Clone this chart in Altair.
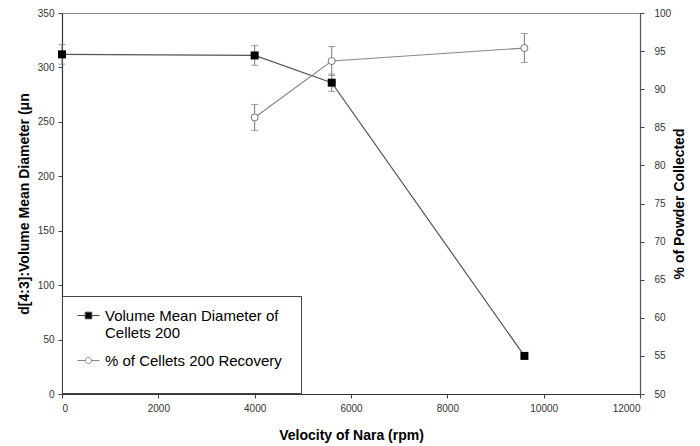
import altair as alt
import pandas as pd

# ---- data ----
velocity = [0, 4000, 5600, 9600]
diameter = [312, 311, 286, 35]
diameter_err = [9, 9, 8, 0]

rec_velocity = [4000, 5600, 9600]
recovery = [86.3, 93.7, 95.4]
recovery_err = [1.7, 1.9, 1.9]

series = ["Volume Mean Diameter of Cellets 200", "% of Cellets 200 Recovery"]
x_ticks = [0, 2000, 4000, 6000, 8000, 10000, 12000]
left_ticks = [0, 50, 100, 150, 200, 250, 300, 350]
right_ticks = [50, 55, 60, 65, 70, 75, 80, 85, 90, 95, 100]

dv = pd.DataFrame({"vel": velocity, "diam": diameter,
                   "lo": [d - e for d, e in zip(diameter, diameter_err)],
                   "hi": [d + e for d, e in zip(diameter, diameter_err)],
                   "err": diameter_err})
dv_err = dv[dv["err"] > 0]
dr = pd.DataFrame({"vel": rec_velocity, "rec": recovery,
                   "lo": [d - e for d, e in zip(recovery, recovery_err)],
                   "hi": [d + e for d, e in zip(recovery, recovery_err)]})
# legend carrier (clipped outside the x domain, only drives the legend)
dleg = pd.DataFrame({"vel": [-5000, -5000], "diam": [100, 100], "series": series})

W, H = 578, 381
FONT = "Liberation Sans"
LFONT = "Liberation Sans Narrow, Liberation Sans"

xenc = alt.X("vel:Q", scale=alt.Scale(domain=[0, 12000], nice=False),
             axis=alt.Axis(values=x_ticks, title="Velocity of Nara (rpm)",
                           titleX=W / 2, titleY=41, titleBaseline="middle",
                           titleAlign="center", labelPadding=5, format="d"))

vaxis = alt.Axis(values=left_ticks, title="d[4:3]:Volume Mean Diameter (μn",
                 titleX=-38, titleY=H / 2, titleAngle=270, titleAlign="center",
                 titleBaseline="middle", labelPadding=4)
vscale = alt.Scale(domain=[0, 350], nice=False)

raxis = alt.Axis(orient="right", values=right_ticks, title="% of Powder Collected",
                 titleX=39, titleY=H / 2, titleAngle=270, titleAlign="center",
                 titleBaseline="middle", labelPadding=10, domainColor="#555")
rscale = alt.Scale(domain=[50, 100], nice=False)

ERR = "#777"

v_line = alt.Chart(dv).mark_line(color="#555", strokeWidth=1.2).encode(
    x=xenc, y=alt.Y("diam:Q", scale=vscale, axis=vaxis))
v_rule = alt.Chart(dv_err).mark_rule(color=ERR, strokeWidth=1).encode(
    x=xenc, y=alt.Y("lo:Q", scale=vscale, axis=vaxis), y2="hi:Q")
v_cap1 = alt.Chart(dv_err).mark_tick(orient="horizontal", size=7, thickness=1, color=ERR).encode(
    x=xenc, y=alt.Y("lo:Q", scale=vscale, axis=vaxis))
v_cap2 = alt.Chart(dv_err).mark_tick(orient="horizontal", size=7, thickness=1, color=ERR).encode(
    x=xenc, y=alt.Y("hi:Q", scale=vscale, axis=vaxis))
v_pts = alt.Chart(dv).mark_point(shape="square", filled=True, color="black", size=64, opacity=1).encode(
    x=xenc, y=alt.Y("diam:Q", scale=vscale, axis=vaxis))

sq = "M-1,0H-0.3M0.3,0H1M-0.3,-0.3H0.3V0.3H-0.3Z"
ci = "M-1,0H-0.28M0.28,0H1M0.28,0A0.28,0.28 0 1,1 -0.28,0A0.28,0.28 0 1,1 0.28,0Z"
spacer = "_" * 23 + "."   # invisible (opacity 0), only sets the legend box width
leg = alt.Legend(title=spacer, titleOrient="bottom", titleFontSize=17, titlePadding=0,
                 titleLimit=1000, titleOpacity=0, titleFont=FONT,
                 orient="none", legendX=0, legendY=283,
                 fillColor="white", strokeColor="#444", padding=8, symbolOffset=7,
                 symbolSize=484, symbolStrokeWidth=1, labelFont=FONT,
                 labelFontSize=15, labelColor="black", labelOffset=5,
                 rowPadding=8, labelLimit=300,
                 labelExpr="datum.label == 'Volume Mean Diameter of Cellets 200' ? ['Volume Mean Diameter of', 'Cellets 200'] : datum.label")
legend_layer = alt.Chart(dleg).mark_point(clip=True, filled=True, opacity=1).encode(
    x=xenc, y=alt.Y("diam:Q", scale=vscale, axis=vaxis),
    shape=alt.Shape("series:N", scale=alt.Scale(domain=series, range=[sq, ci]), legend=leg),
    fill=alt.Fill("series:N", scale=alt.Scale(domain=series, range=["#000000", "#ffffff"]), legend=leg),
    stroke=alt.Stroke("series:N", scale=alt.Scale(domain=series, range=["#444444", "#888888"]), legend=leg),
)

vol = alt.layer(v_line, v_rule, v_cap1, v_cap2, v_pts, legend_layer)

r_line = alt.Chart(dr).mark_line(color="#888", strokeWidth=1.2).encode(
    x=xenc, y=alt.Y("rec:Q", scale=rscale, axis=raxis))
r_rule = alt.Chart(dr).mark_rule(color=ERR, strokeWidth=1).encode(
    x=xenc, y=alt.Y("lo:Q", scale=rscale, axis=raxis), y2="hi:Q")
r_cap1 = alt.Chart(dr).mark_tick(orient="horizontal", size=7, thickness=1, color=ERR).encode(
    x=xenc, y=alt.Y("lo:Q", scale=rscale, axis=raxis))
r_cap2 = alt.Chart(dr).mark_tick(orient="horizontal", size=7, thickness=1, color=ERR).encode(
    x=xenc, y=alt.Y("hi:Q", scale=rscale, axis=raxis))
r_pts = alt.Chart(dr).mark_point(shape="circle", filled=True, fill="white", stroke="#777",
                                 strokeWidth=1, size=50, opacity=1).encode(
    x=xenc, y=alt.Y("rec:Q", scale=rscale, axis=raxis))

rec = alt.layer(r_line, r_rule, r_cap1, r_cap2, r_pts)

chart = alt.layer(vol, rec).resolve_scale(y="independent").properties(
    width=W, height=H,
    autosize=alt.AutoSizeParams(type="none"),
    padding={"left": 54, "top": 5, "right": 52, "bottom": 52},
    background="white",
).configure_view(stroke="#888", strokeWidth=1).configure_axis(
    grid=False, labelFont=LFONT, labelFontSize=10, labelColor="#333",
    tickColor="#444", tickSize=4, domainColor="#333", domainWidth=1.2,
    titleFont=FONT, titleFontSize=14, titleFontWeight="bold", titleColor="black",
)

chart.save("out.html", embed_options={"renderer": "svg", "actions": False})
